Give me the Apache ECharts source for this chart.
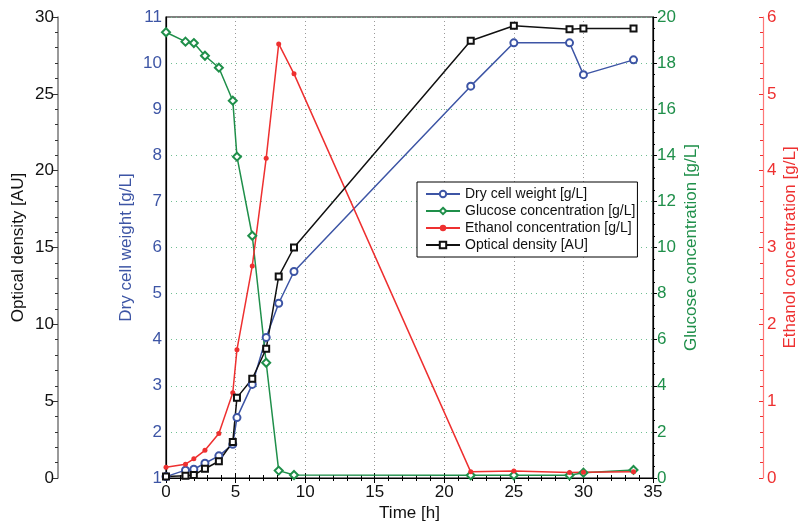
<!DOCTYPE html>
<html>
<head>
<meta charset="utf-8">
<script src="https://cdn.jsdelivr.net/npm/echarts@6/dist/echarts.min.js"></script>
<style>
  html, body { margin: 0; padding: 0; background: #fff; }
  #chart { width: 800px; height: 524px; }
</style>
</head>
<body>
<div id="chart"></div>
<script>
// time points [h]
const timeH = [0, 1.4, 2.0, 2.8, 3.8, 4.8, 5.1, 6.2, 7.2, 8.1, 9.2, 21.9, 25.0, 29.0, 30.0, 33.6]
// dry cell weight [g/L]
const dryCell = [1.03, 1.17, 1.19, 1.32, 1.48, 1.73, 2.31, 3.03, 4.05, 4.79, 5.48, 9.5, 10.44, 10.44, 9.75, 10.07]
// glucose [g/L]
const glucose = [19.34, 18.93, 18.87, 18.32, 17.8, 16.37, 13.94, 10.51, 5.0, 0.32, 0.13, 0.12, 0.12, 0.12, 0.23, 0.35]
// ethanol [g/L]
const ethanol = [0.14, 0.18, 0.25, 0.36, 0.58, 1.11, 1.67, 2.76, 4.16, 5.65, 5.26, 0.08, 0.09, 0.07, 0.075, 0.08]
// optical density [AU]
const opticalDensity = [0.09, 0.15, 0.2, 0.6, 1.09, 2.34, 5.23, 6.46, 8.41, 13.12, 15.0, 28.45, 29.43, 29.21, 29.25, 29.25]

const BLUE = '#3d55a5'
const GREEN = '#1f8f4a'
const RED = '#ee3030'
const BLACK = '#111111'
const FONT = '"Liberation Sans", Arial, sans-serif'

const pairs = (ys) => timeH.map((t, i) => [t, ys[i]])

const chart = echarts.init(document.getElementById('chart'))

const baseY = (color) => ({
  type: 'value',
  nameLocation: 'middle',
  nameRotate: 90,
  nameMoveOverlap: false,
  nameTextStyle: { color: color, fontSize: 17, fontFamily: FONT },
  axisLabel: { color: color, fontSize: 17, fontFamily: FONT, margin: 4 },
  axisLine: { show: true, onZero: false, lineStyle: { color: color, width: 1 } },
  splitLine: { show: false },
})

const options = {
  animation: false,
  grid: {
    left: 166, right: 147, top: 17, bottom: 46,
    outerBoundsMode: 'none',
    containLabel: false,
    show: true, borderColor: '#000', borderWidth: 1.2,
  },
  legend: {
    orient: 'vertical',
    left: 417, top: 182,
    padding: [5, 2, 5, 8],
    itemGap: 3,
    itemWidth: 34,
    itemHeight: 8,
    backgroundColor: '#fff',
    borderColor: '#000',
    borderWidth: 1,
    textStyle: { fontSize: 14, fontFamily: FONT, color: '#111' },
    data: ['Dry cell weight [g/L]', 'Glucose concentration [g/L]', 'Ethanol concentration [g/L]', 'Optical density [AU]'],
  },
  xAxis: [{
    type: 'value',
    min: 0, max: 35, interval: 5,
    name: 'Time [h]',
    nameLocation: 'middle',
    nameGap: 27,
    nameMoveOverlap: false,
    nameTextStyle: { color: '#111', fontSize: 17, fontFamily: FONT },
    axisLabel: { color: '#111', fontSize: 17, fontFamily: FONT, margin: 6 },
    axisLine: { onZero: false, lineStyle: { color: '#000', width: 1.2 } },
    axisTick: { inside: true, length: 5, lineStyle: { color: '#000' } },
    minorTick: { show: true, splitNumber: 5, length: 3, lineStyle: { color: '#000' } },
    splitLine: { show: true, lineStyle: { color: '#999', type: [1, 3], width: 1 } },
  }, {
    type: 'value',
    position: 'top',
    min: 0, max: 35, interval: 5,
    axisLabel: { show: false },
    axisLine: { show: false },
    axisTick: { inside: true, length: 5, lineStyle: { color: '#000' } },
    minorTick: { show: true, splitNumber: 5, length: 3, lineStyle: { color: '#000' } },
    splitLine: { show: false },
  }],
  yAxis: [
    Object.assign(baseY(BLUE), {
      name: 'Dry cell weight [g/L]',
      position: 'left', offset: 0,
      min: 1, max: 11, interval: 1,
      nameGap: 31,
      axisLine: { show: true, onZero: false, lineStyle: { color: '#000', width: 1.2 } },
      axisTick: { show: false },
    }),
    Object.assign(baseY('#111'), {
      name: 'Optical density [AU]',
      position: 'left', offset: 108,
      min: 0, max: 30, interval: 5,
      nameGap: 31,
      axisLine: { show: true, onZero: false, lineStyle: { color: '#777', width: 1.5 } },
      axisTick: { show: true, length: 5, lineStyle: { color: '#333' } },
      minorTick: { show: true, splitNumber: 5, length: 3, lineStyle: { color: '#333' } },
    }),
    Object.assign(baseY(GREEN), {
      name: 'Glucose concentration [g/L]',
      position: 'right', offset: 0,
      min: 0, max: 20, interval: 2,
      nameGap: 30,
      axisLine: { show: true, onZero: false, lineStyle: { color: '#000', width: 1.2 } },
      axisTick: { show: true, length: 4, lineStyle: { color: '#000' } },
      minorTick: { show: true, splitNumber: 4, length: 2, lineStyle: { color: '#000' } },
      splitLine: { show: true, lineStyle: { color: '#6fbf92', type: [1, 4], width: 1 } },
    }),
    Object.assign(baseY(RED), {
      name: 'Ethanol concentration [g/L]',
      position: 'right', offset: 110,
      min: 0, max: 6, interval: 1,
      nameGap: 19,
      axisLine: { show: true, onZero: false, lineStyle: { color: '#f77', width: 1.2 } },
      axisTick: { show: true, length: 4, inside: true, lineStyle: { color: RED } },
      minorTick: { show: true, splitNumber: 5, length: 3, lineStyle: { color: RED } },
    }),
  ],
  series: [
    {
      name: 'Dry cell weight [g/L]',
      type: 'line', yAxisIndex: 0,
      data: pairs(dryCell),
      symbol: 'emptyCircle', symbolSize: 7,
      lineStyle: { color: BLUE, width: 1.5 },
      itemStyle: { color: BLUE, borderWidth: 1.3 },
    },
    {
      name: 'Glucose concentration [g/L]',
      type: 'line', yAxisIndex: 2,
      data: pairs(glucose),
      symbol: 'emptyDiamond', symbolSize: 8,
      lineStyle: { color: GREEN, width: 1.5 },
      itemStyle: { color: GREEN, borderWidth: 1.3 },
    },
    {
      name: 'Ethanol concentration [g/L]',
      type: 'line', yAxisIndex: 3,
      data: pairs(ethanol),
      symbol: 'circle', symbolSize: 5,
      lineStyle: { color: RED, width: 1.5 },
      itemStyle: { color: RED },
    },
    {
      name: 'Optical density [AU]',
      type: 'line', yAxisIndex: 1,
      data: pairs(opticalDensity),
      symbol: 'emptyRect', symbolSize: 6,
      lineStyle: { color: BLACK, width: 1.5 },
      itemStyle: { color: BLACK, borderWidth: 1.2 },
    },
  ],
}

chart.setOption(options)
</script>
</body>
</html>
